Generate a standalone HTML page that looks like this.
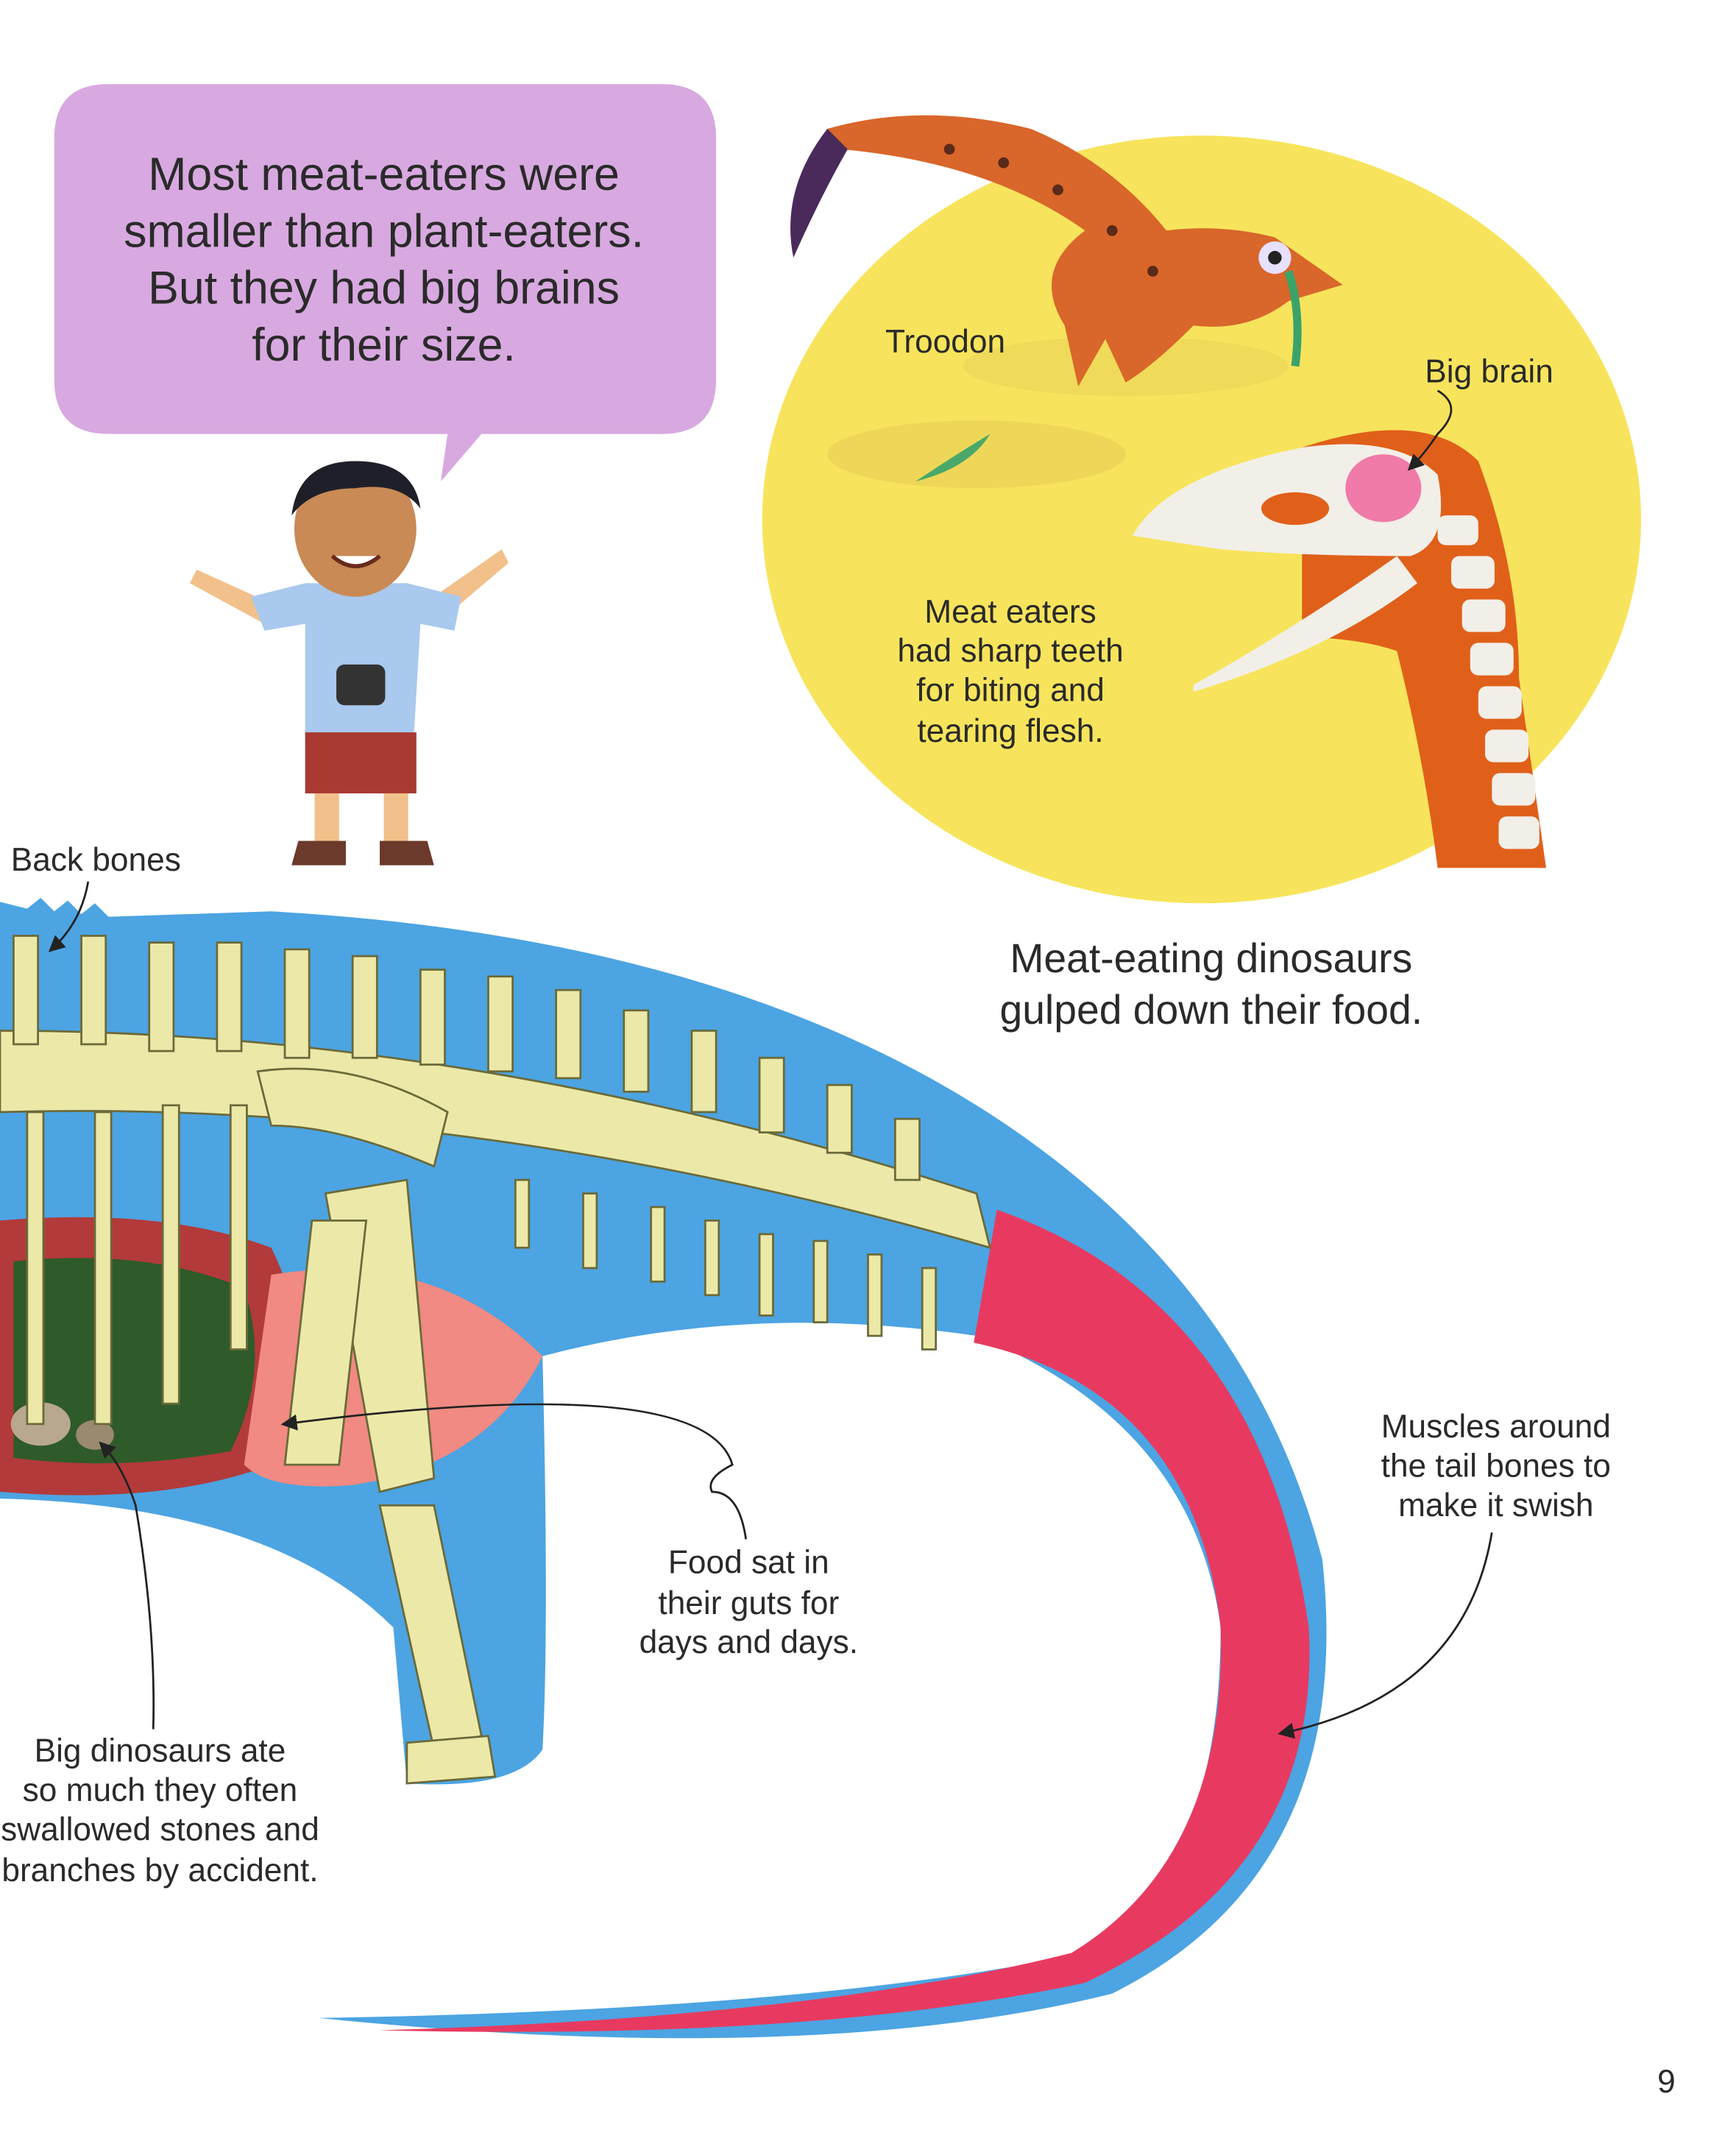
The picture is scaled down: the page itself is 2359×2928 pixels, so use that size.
<!DOCTYPE html>
<html><head><meta charset="utf-8">
<style>
html,body{margin:0;padding:0;background:#fff;}
svg{display:block;}
text{font-family:"Liberation Sans",sans-serif;fill:#2a2a2a;}
</style></head>
<body>
<svg width="2359" height="2928" viewBox="0 0 1280 1589" preserveAspectRatio="none" xmlns="http://www.w3.org/2000/svg">
<defs>
<marker id="ar" markerWidth="8" markerHeight="8" refX="6" refY="4" orient="auto"><path d="M0,0 L8,4 L0,8 Z" fill="#222"/></marker>
</defs>
<rect width="1280" height="1589" fill="#fff"/>

<path d="M80,62 H488 Q528,62 528,102 V280 Q528,320 488,320 H355 L325,355 L330,320 H80 Q40,320 40,280 V102 Q40,62 80,62 Z" fill="#d8a9e0"/>
<g font-size="34" text-anchor="middle">
<text x="283" y="140">Most meat-eaters were</text>
<text x="283" y="182">smaller than plant-eaters.</text>
<text x="283" y="224">But they had big brains</text>
<text x="283" y="266">for their size.</text>
</g>

<g>
<path d="M145,420 L200,445 L195,460 L140,430 Z" fill="#f2c08a"/>
<path d="M370,405 L320,440 L328,455 L375,415 Z" fill="#f2c08a"/>
<path d="M185,440 L225,430 L300,430 L340,440 L335,465 L310,460 L305,545 L225,545 L225,460 L195,465 Z" fill="#a9c9ee"/>
<rect x="225" y="540" width="82" height="45" fill="#a83a32"/>
<rect x="232" y="585" width="18" height="35" fill="#f2c08a"/>
<rect x="283" y="585" width="18" height="35" fill="#f2c08a"/>
<path d="M220,620 h35 v18 h-40 Z M280,620 h35 l5,18 h-40 Z" fill="#6b3a2a"/>
<rect x="248" y="490" width="36" height="30" rx="6" fill="#333"/>
<ellipse cx="262" cy="390" rx="45" ry="50" fill="#c98a55"/>
<path d="M215,380 Q220,340 262,340 Q305,340 310,375 Q295,355 262,360 Q230,360 215,380 Z" fill="#1f1f2a"/>
<path d="M245,410 Q262,425 280,410" stroke="#6a2a1a" stroke-width="3" fill="#fff"/>
</g>

<ellipse cx="886" cy="383" rx="324" ry="283" fill="#f7e45c"/>
<ellipse cx="720" cy="335" rx="110" ry="25" fill="#e8cf55" opacity="0.6"/>
<ellipse cx="830" cy="270" rx="120" ry="22" fill="#e8cf55" opacity="0.5"/>
<!-- troodon -->
<path d="M610,95 Q680,75 760,95 Q820,120 860,170 Q900,165 940,175 L990,210 L950,222 Q920,245 880,240 Q850,270 830,282 L815,250 L795,285 L785,240 Q760,200 800,170 Q730,120 620,110 Z" fill="#d9662a"/>
<path d="M610,95 Q575,140 585,190 Q605,145 625,110 Z" fill="#4a2a5a"/>
<g fill="#5a2a1a"><circle cx="700" cy="110" r="4"/><circle cx="740" cy="120" r="4"/><circle cx="780" cy="140" r="4"/><circle cx="820" cy="170" r="4"/><circle cx="850" cy="200" r="4"/></g>
<ellipse cx="940" cy="190" rx="12" ry="12" fill="#e8e0ff"/>
<circle cx="940" cy="190" r="5" fill="#222"/>
<path d="M675,355 q30,-20 55,-35 q-15,25 -55,35z" fill="#4aa86a"/>
<path d="M950,200 q10,30 5,70" stroke="#3aa36a" stroke-width="6" fill="none"/>
<path d="M960,330 Q1050,300 1090,340 Q1120,420 1120,500 Q1130,570 1140,640 L1060,640 Q1050,560 1030,480 Q1000,470 960,470 Z" fill="#e0601a"/>
<path d="M835,395 Q860,350 960,330 Q1030,320 1060,350 Q1070,400 1040,410 Q960,410 900,405 Z" fill="#f2efe8"/>
<path d="M880,505 Q960,460 1030,410 L1045,430 Q980,480 880,510 Z" fill="#f2efe8"/>
<ellipse cx="1020" cy="360" rx="28" ry="25" fill="#f07aa8"/>
<ellipse cx="955" cy="375" rx="25" ry="12" fill="#e0601a"/>
<g fill="#f2efe8">
<rect x="1060" y="380" width="30" height="22" rx="6"/><rect x="1070" y="410" width="32" height="24" rx="6"/><rect x="1078" y="442" width="32" height="24" rx="6"/><rect x="1084" y="474" width="32" height="24" rx="6"/><rect x="1090" y="506" width="32" height="24" rx="6"/><rect x="1095" y="538" width="32" height="24" rx="6"/><rect x="1100" y="570" width="32" height="24" rx="6"/><rect x="1105" y="602" width="30" height="24" rx="6"/>
</g>
<g font-size="24" text-anchor="middle">
<text x="697" y="260">Troodon</text>
<text x="1098" y="282">Big brain</text>
<text x="745" y="459">Meat eaters</text>
<text x="745" y="488">had sharp teeth</text>
<text x="745" y="517">for biting and</text>
<text x="745" y="547">tearing flesh.</text>
</g>
<path d="M1060,288 Q1080,300 1060,320 Q1050,335 1040,345" stroke="#222" stroke-width="1.5" fill="none" marker-end="url(#ar)"/>

<g font-size="30" text-anchor="middle">
<text x="893" y="717">Meat-eating dinosaurs</text>
<text x="893" y="755">gulped down their food.</text>
</g>

<path d="M0,665 L20,670 L30,662 L40,672 L50,664 L60,674 L70,666 L80,676 L200,672 Q520,690 720,815 Q920,940 975,1150 Q1000,1380 820,1470 Q600,1525 235,1488 Q600,1482 800,1440 Q900,1380 900,1200 Q880,1050 720,985 Q550,960 400,1000 Q405,1200 400,1290 Q380,1320 300,1315 L290,1200 Q200,1110 0,1105 Z" fill="#4ca4e2"/>
<path d="M735,892 Q930,960 965,1200 Q975,1380 800,1462 Q600,1505 280,1497 Q600,1488 790,1440 Q905,1370 900,1200 Q880,1025 718,990 Z" fill="#e83a60"/>
<path d="M0,900 Q120,890 200,920 Q240,1000 200,1080 Q120,1110 0,1100 Z" fill="#b33a3a"/>
<path d="M10,930 Q110,920 180,950 Q200,1010 170,1070 Q90,1085 10,1075 Z" fill="#2f5a2a"/>
<ellipse cx="30" cy="1050" rx="22" ry="16" fill="#b8a890"/>
<ellipse cx="70" cy="1058" rx="14" ry="11" fill="#9a8a70"/>
<path d="M200,940 Q320,920 400,1000 Q360,1080 260,1095 Q200,1100 180,1080 Z" fill="#f08a82"/>
<g fill="#ece9a8" stroke="#6a6a3a" stroke-width="1.5">
<path d="M0,760 Q350,760 720,880 L730,920 Q350,810 0,820 Z"/>
<rect x="10" y="690" width="18" height="80"/><rect x="60" y="690" width="18" height="80"/><rect x="110" y="695" width="18" height="80"/><rect x="160" y="695" width="18" height="80"/><rect x="210" y="700" width="18" height="80"/><rect x="260" y="705" width="18" height="75"/><rect x="310" y="715" width="18" height="70"/><rect x="360" y="720" width="18" height="70"/><rect x="410" y="730" width="18" height="65"/><rect x="460" y="745" width="18" height="60"/><rect x="510" y="760" width="18" height="60"/><rect x="560" y="780" width="18" height="55"/><rect x="610" y="800" width="18" height="50"/><rect x="660" y="825" width="18" height="45"/>
<rect x="20" y="820" width="12" height="230"/><rect x="70" y="820" width="12" height="230"/><rect x="120" y="815" width="12" height="220"/><rect x="170" y="815" width="12" height="180"/>
<rect x="380" y="870" width="10" height="50"/><rect x="430" y="880" width="10" height="55"/><rect x="480" y="890" width="10" height="55"/><rect x="520" y="900" width="10" height="55"/><rect x="560" y="910" width="10" height="60"/><rect x="600" y="915" width="10" height="60"/><rect x="640" y="925" width="10" height="60"/><rect x="680" y="935" width="10" height="60"/>
<path d="M190,790 Q260,780 330,820 L320,860 Q250,830 200,830 Z"/>
<path d="M240,880 L300,870 L320,1090 L280,1100 Z"/>
<path d="M280,1110 L320,1110 L355,1280 L320,1290 Z"/>
<path d="M300,1285 L360,1280 L365,1310 L300,1315 Z"/>
<path d="M230,900 L270,900 L250,1080 L210,1080 Z"/>
</g>

<g font-size="24" text-anchor="middle">
<text x="552" y="1160">Food sat in</text>
<text x="552" y="1190">their guts for</text>
<text x="552" y="1219">days and days.</text>
<text x="1103" y="1060">Muscles around</text>
<text x="1103" y="1089">the tail bones to</text>
<text x="1103" y="1118">make it swish</text>
<text x="118" y="1299">Big dinosaurs ate</text>
<text x="118" y="1328">so much they often</text>
<text x="118" y="1357">swallowed stones and</text>
<text x="118" y="1387">branches by accident.</text>
</g>
<text x="8" y="642" font-size="24">Back bones</text>
<text x="1222" y="1543" font-size="24">9</text>

<path d="M65,650 Q60,680 38,700" stroke="#222" stroke-width="1.5" fill="none" marker-end="url(#ar)"/>
<path d="M550,1135 Q545,1100 525,1100 Q520,1090 540,1080 Q520,1010 210,1050" stroke="#222" stroke-width="1.5" fill="none" marker-end="url(#ar)"/>
<path d="M113,1275 Q115,1200 100,1110 Q90,1080 75,1065" stroke="#222" stroke-width="1.5" fill="none" marker-end="url(#ar)"/>
<path d="M1100,1130 Q1080,1250 945,1278" stroke="#222" stroke-width="1.5" fill="none" marker-end="url(#ar)"/>
</svg>
</body></html>
